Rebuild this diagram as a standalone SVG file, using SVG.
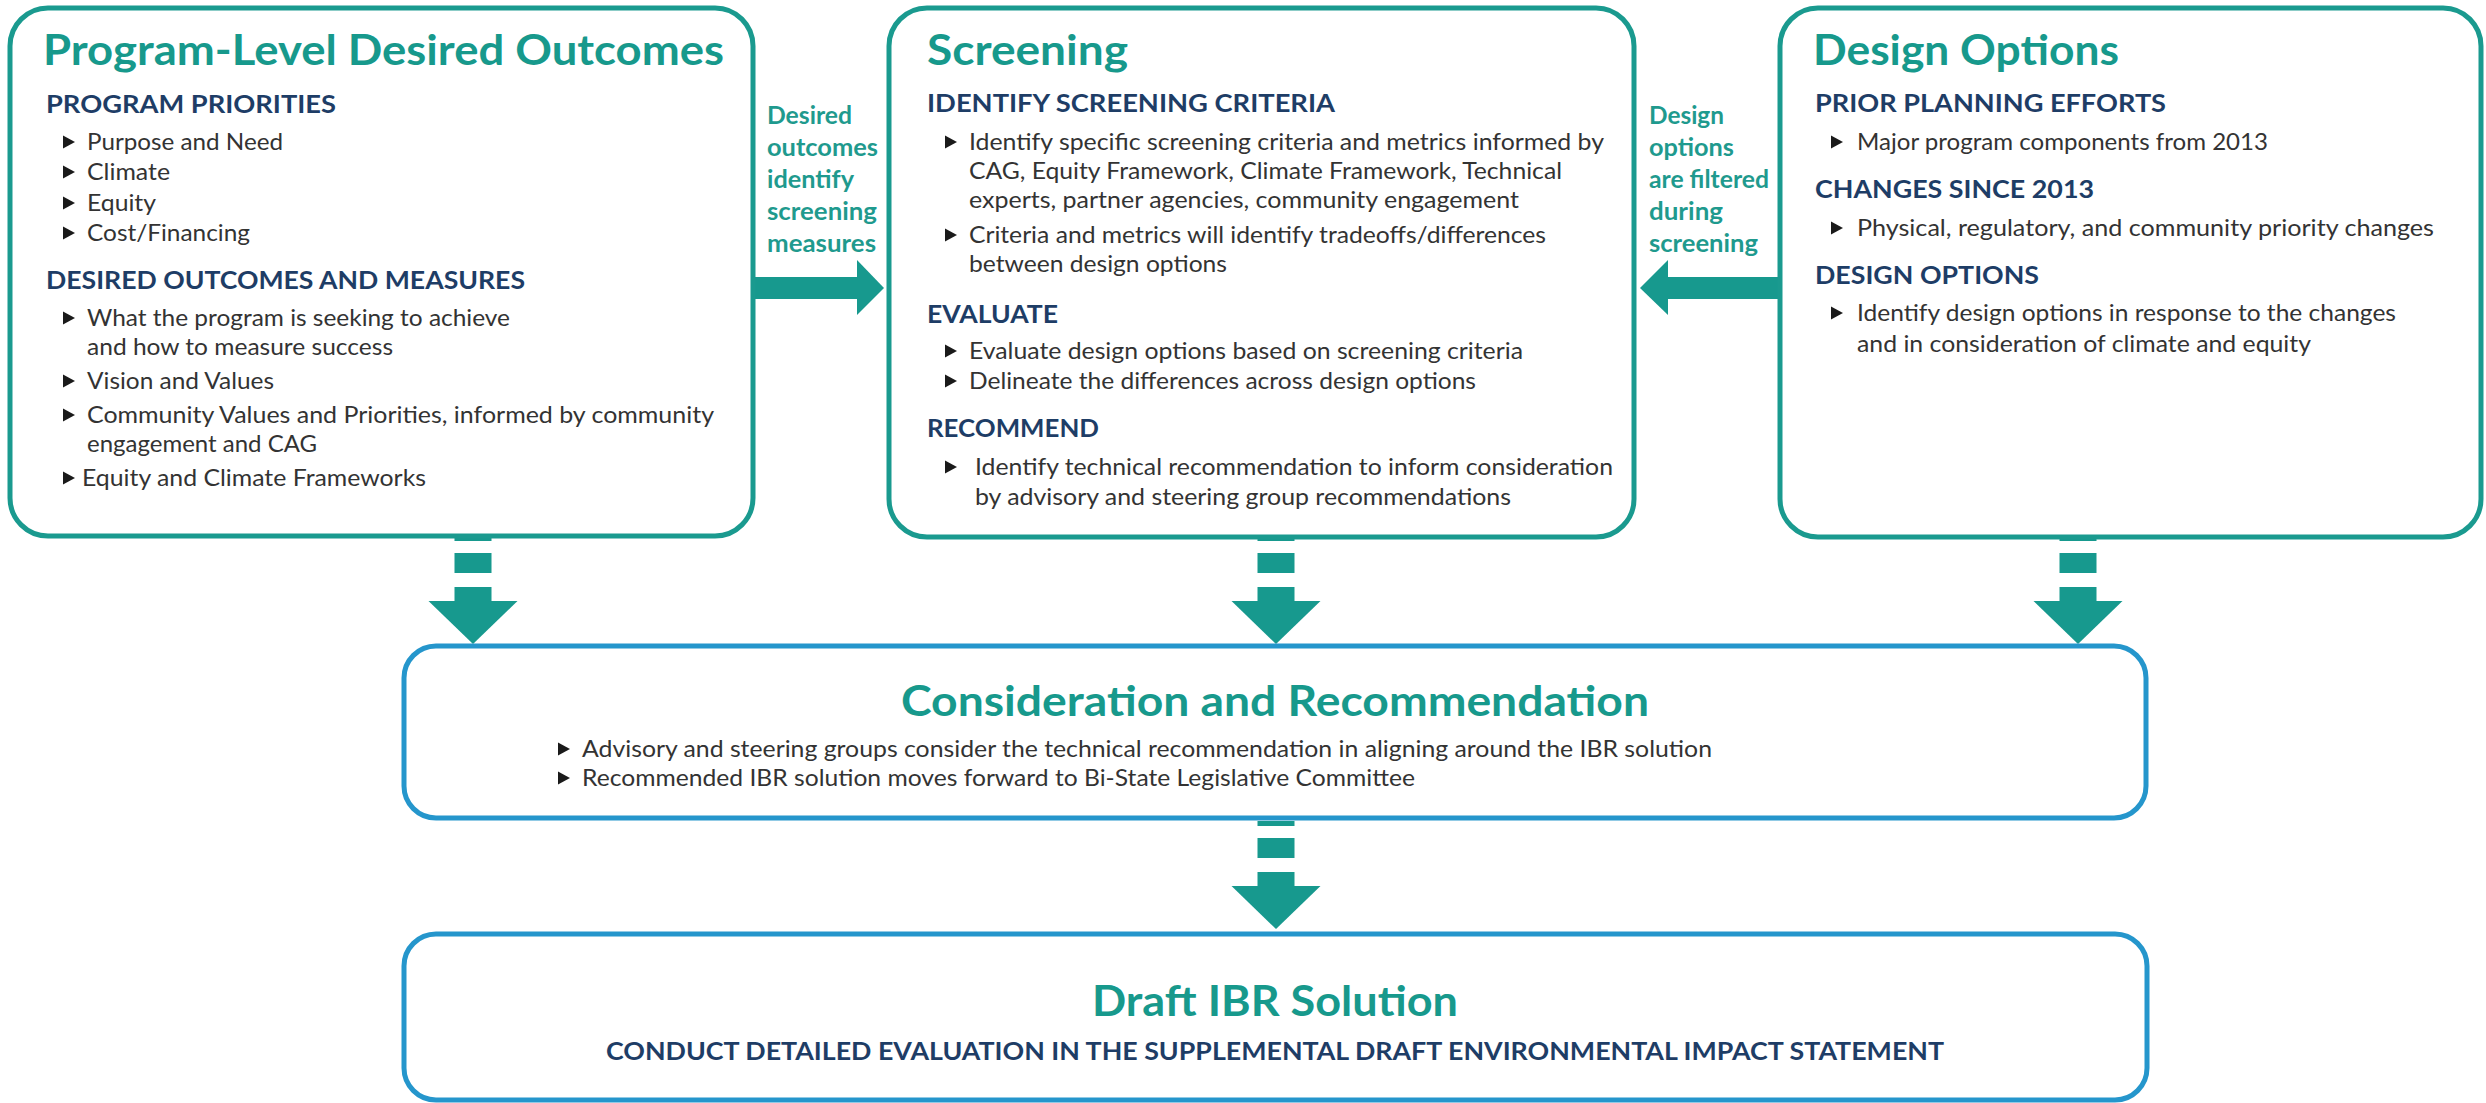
<svg xmlns="http://www.w3.org/2000/svg" xmlns:xlink="http://www.w3.org/1999/xlink" width="2486" height="1103" viewBox="0 0 2486 1103">
<style>
text{font-family:Lato,"Noto Sans","Liberation Sans",sans-serif}
.title{font-size:42px;font-weight:700;fill:#17998c}
.h{font-size:25px;font-weight:700;fill:#1e3d66}
.b{font-size:23px;fill:#333333}
.lab{font-size:24px;font-weight:700;fill:#1f9a8e}
.box1{fill:#ffffff;stroke:#1a9a8f;stroke-width:5}
.box2{fill:#ffffff;stroke:#2596cc;stroke-width:5}
.arr{fill:#17998e}
.tri{fill:#1a1a1a}
</style>
<defs>
<path id="tri" d="M0,-6.5 L12,0 L0,6.5 Z"/>
<g id="down">
<rect x="-18.5" y="0" width="37" height="5"/>
<rect x="-18.5" y="17" width="37" height="20"/>
<rect x="-18.5" y="51" width="37" height="15"/>
<polygon points="-44.5,65 44.5,65 0,108"/>
</g>
</defs>
<rect width="2486" height="1103" fill="#ffffff"/>

<g id="connectors" class="arr">
<rect x="753" y="277" width="105" height="22"/>
<polygon points="857,260 884,288 857,315"/>
<rect x="1667" y="277" width="113" height="22"/>
<polygon points="1668,260 1640,288 1668,315"/>
<use xlink:href="#down" x="473" y="536"/>
<use xlink:href="#down" x="1276" y="536"/>
<use xlink:href="#down" x="2078" y="536"/>
<use xlink:href="#down" x="1276" y="821"/>
<text class="lab" x="767" y="124" textLength="85" lengthAdjust="spacingAndGlyphs">Desired</text>
<text class="lab" x="767" y="156" textLength="111" lengthAdjust="spacingAndGlyphs">outcomes</text>
<text class="lab" x="767" y="188" textLength="87" lengthAdjust="spacingAndGlyphs">identify</text>
<text class="lab" x="767" y="220" textLength="110" lengthAdjust="spacingAndGlyphs">screening</text>
<text class="lab" x="767" y="252" textLength="109" lengthAdjust="spacingAndGlyphs">measures</text>
<text class="lab" x="1649" y="124" textLength="75" lengthAdjust="spacingAndGlyphs">Design</text>
<text class="lab" x="1649" y="156" textLength="85" lengthAdjust="spacingAndGlyphs">options</text>
<text class="lab" x="1649" y="188" textLength="120" lengthAdjust="spacingAndGlyphs">are filtered</text>
<text class="lab" x="1649" y="220" textLength="74" lengthAdjust="spacingAndGlyphs">during</text>
<text class="lab" x="1649" y="252" textLength="109" lengthAdjust="spacingAndGlyphs">screening</text>
</g>

<g id="program-level">
<rect class="box1" x="10" y="8" width="743" height="528" rx="38"/>
<text class="title" x="43" y="65" textLength="681" lengthAdjust="spacingAndGlyphs">Program-Level Desired Outcomes</text>
<text class="h" x="46" y="113" textLength="290" lengthAdjust="spacingAndGlyphs">PROGRAM PRIORITIES</text>
<g class="tri"><use xlink:href="#tri" x="63" y="142"/><use xlink:href="#tri" x="63" y="172"/><use xlink:href="#tri" x="63" y="203"/><use xlink:href="#tri" x="63" y="233"/><use xlink:href="#tri" x="63" y="318"/><use xlink:href="#tri" x="63" y="381"/><use xlink:href="#tri" x="63" y="415"/><use xlink:href="#tri" x="63" y="478"/></g>
<text class="b" x="87" y="150" textLength="196" lengthAdjust="spacingAndGlyphs">Purpose and Need</text>
<text class="b" x="87" y="180" textLength="83" lengthAdjust="spacingAndGlyphs">Climate</text>
<text class="b" x="87" y="211" textLength="69" lengthAdjust="spacingAndGlyphs">Equity</text>
<text class="b" x="87" y="241" textLength="163" lengthAdjust="spacingAndGlyphs">Cost/Financing</text>
<text class="h" x="46" y="289" textLength="479" lengthAdjust="spacingAndGlyphs">DESIRED OUTCOMES AND MEASURES</text>
<text class="b" x="87" y="326" textLength="423" lengthAdjust="spacingAndGlyphs">What the program is seeking to achieve</text>
<text class="b" x="87" y="355" textLength="306" lengthAdjust="spacingAndGlyphs">and how to measure success</text>
<text class="b" x="87" y="389" textLength="187" lengthAdjust="spacingAndGlyphs">Vision and Values</text>
<text class="b" x="87" y="423" textLength="627" lengthAdjust="spacingAndGlyphs">Community Values and Priorities, informed by community</text>
<text class="b" x="87" y="452" textLength="230" lengthAdjust="spacingAndGlyphs">engagement and CAG</text>
<text class="b" x="82" y="486" textLength="344" lengthAdjust="spacingAndGlyphs">Equity and Climate Frameworks</text>
</g>

<g id="screening">
<rect class="box1" x="889" y="8" width="745" height="529" rx="38"/>
<text class="title" x="927" y="65" textLength="201" lengthAdjust="spacingAndGlyphs">Screening</text>
<text class="h" x="927" y="112" textLength="408" lengthAdjust="spacingAndGlyphs">IDENTIFY SCREENING CRITERIA</text>
<g class="tri"><use xlink:href="#tri" x="945" y="142"/><use xlink:href="#tri" x="945" y="235"/><use xlink:href="#tri" x="945" y="351"/><use xlink:href="#tri" x="945" y="381"/><use xlink:href="#tri" x="945" y="467"/></g>
<text class="b" x="969" y="150" textLength="635" lengthAdjust="spacingAndGlyphs">Identify specific screening criteria and metrics informed by</text>
<text class="b" x="969" y="179" textLength="593" lengthAdjust="spacingAndGlyphs">CAG, Equity Framework, Climate Framework, Technical</text>
<text class="b" x="969" y="208" textLength="550" lengthAdjust="spacingAndGlyphs">experts, partner agencies, community engagement</text>
<text class="b" x="969" y="243" textLength="577" lengthAdjust="spacingAndGlyphs">Criteria and metrics will identify tradeoffs/differences</text>
<text class="b" x="969" y="272" textLength="258" lengthAdjust="spacingAndGlyphs">between design options</text>
<text class="h" x="927" y="323" textLength="131" lengthAdjust="spacingAndGlyphs">EVALUATE</text>
<text class="b" x="969" y="359" textLength="554" lengthAdjust="spacingAndGlyphs">Evaluate design options based on screening criteria</text>
<text class="b" x="969" y="389" textLength="507" lengthAdjust="spacingAndGlyphs">Delineate the differences across design options</text>
<text class="h" x="927" y="437" textLength="172" lengthAdjust="spacingAndGlyphs">RECOMMEND</text>
<text class="b" x="975" y="475" textLength="638" lengthAdjust="spacingAndGlyphs">Identify technical recommendation to inform consideration</text>
<text class="b" x="975" y="505" textLength="536" lengthAdjust="spacingAndGlyphs">by advisory and steering group recommendations</text>
</g>

<g id="design-options">
<rect class="box1" x="1780" y="8" width="701" height="529" rx="38"/>
<text class="title" x="1813" y="65" textLength="306" lengthAdjust="spacingAndGlyphs">Design Options</text>
<text class="h" x="1815" y="112" textLength="351" lengthAdjust="spacingAndGlyphs">PRIOR PLANNING EFFORTS</text>
<g class="tri"><use xlink:href="#tri" x="1831" y="142"/><use xlink:href="#tri" x="1831" y="228"/><use xlink:href="#tri" x="1831" y="313"/></g>
<text class="b" x="1857" y="150" textLength="411" lengthAdjust="spacingAndGlyphs">Major program components from 2013</text>
<text class="h" x="1815" y="198" textLength="279" lengthAdjust="spacingAndGlyphs">CHANGES SINCE 2013</text>
<text class="b" x="1857" y="236" textLength="577" lengthAdjust="spacingAndGlyphs">Physical, regulatory, and community priority changes</text>
<text class="h" x="1815" y="284" textLength="224" lengthAdjust="spacingAndGlyphs">DESIGN OPTIONS</text>
<text class="b" x="1857" y="321" textLength="539" lengthAdjust="spacingAndGlyphs">Identify design options in response to the changes</text>
<text class="b" x="1857" y="352" textLength="454" lengthAdjust="spacingAndGlyphs">and in consideration of climate and equity</text>
</g>

<g id="consideration">
<rect class="box2" x="404" y="646" width="1742" height="172" rx="32"/>
<text class="title" x="901" y="716" font-size="44" textLength="748" lengthAdjust="spacingAndGlyphs">Consideration and Recommendation</text>
<g class="tri"><use xlink:href="#tri" x="558" y="749"/><use xlink:href="#tri" x="558" y="778"/></g>
<text class="b" x="582" y="757" textLength="1130" lengthAdjust="spacingAndGlyphs">Advisory and steering groups consider the technical recommendation in aligning around the IBR solution</text>
<text class="b" x="582" y="786" textLength="833" lengthAdjust="spacingAndGlyphs">Recommended IBR solution moves forward to Bi-State Legislative Committee</text>
</g>

<g id="draft-ibr">
<rect class="box2" x="404" y="934" width="1743" height="166" rx="32"/>
<text class="title" x="1092" y="1016" textLength="366" lengthAdjust="spacingAndGlyphs">Draft IBR Solution</text>
<text class="h" x="606" y="1060" textLength="1338" lengthAdjust="spacingAndGlyphs">CONDUCT DETAILED EVALUATION IN THE SUPPLEMENTAL DRAFT ENVIRONMENTAL IMPACT STATEMENT</text>
</g>
</svg>
